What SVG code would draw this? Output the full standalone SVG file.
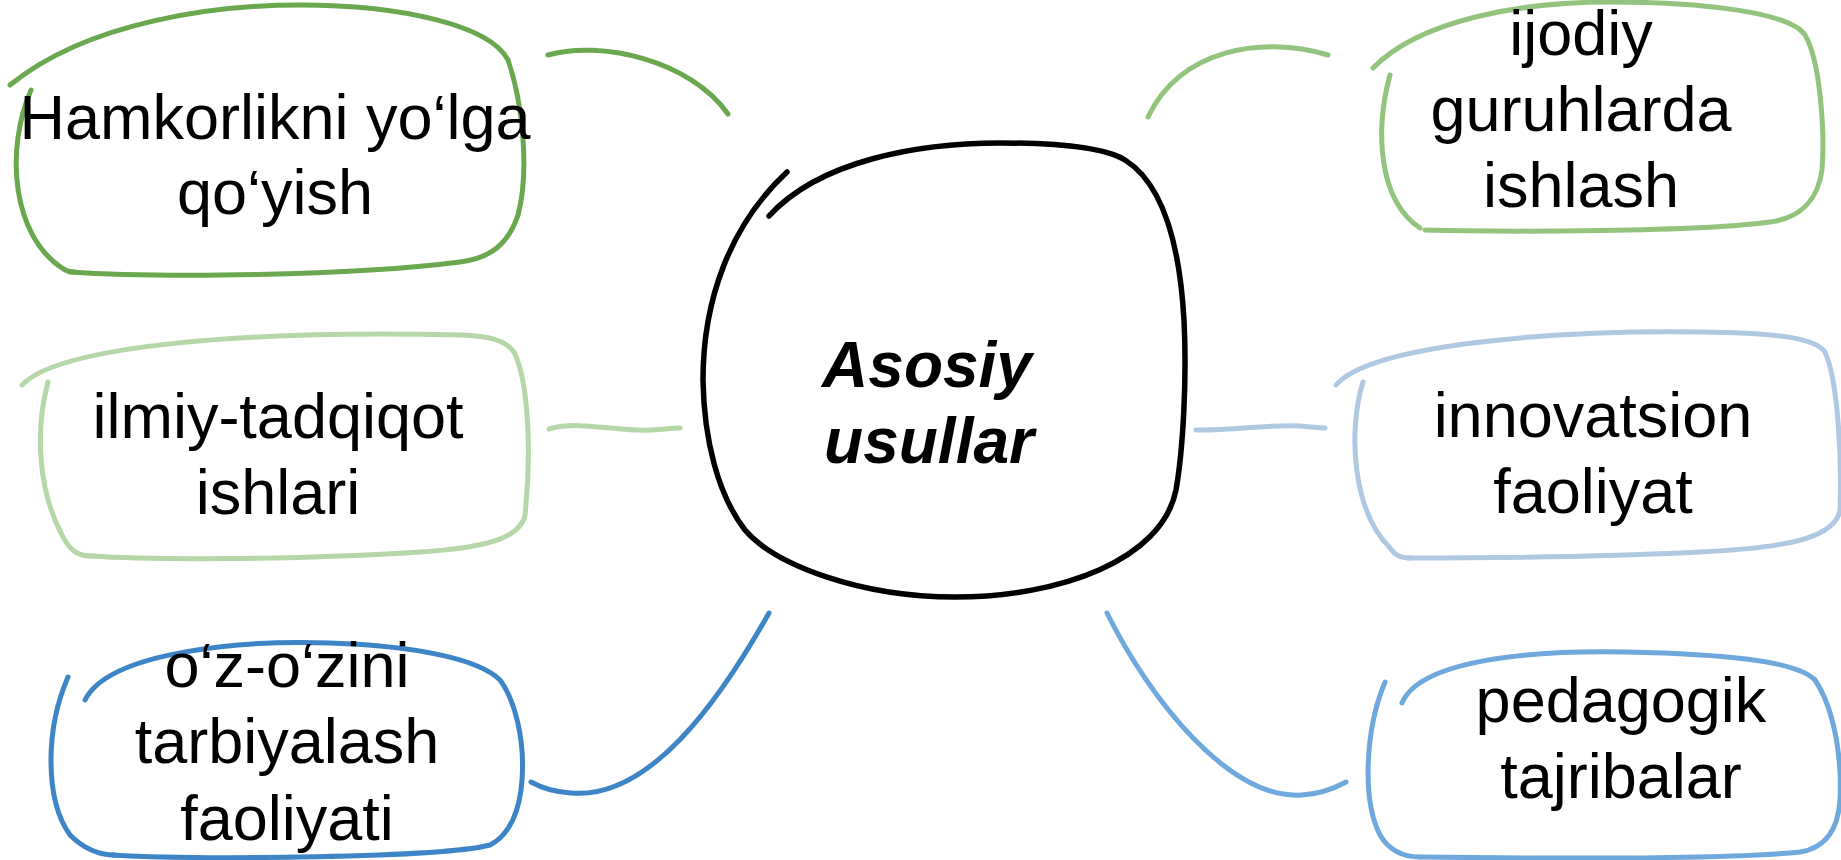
<svg xmlns="http://www.w3.org/2000/svg" width="1841" height="860" viewBox="0 0 1841 860">
<style>
.s{fill:none;stroke-linecap:round;stroke-linejoin:round;stroke-width:5}
.c1{stroke:#6aa84f}.c2{stroke:#93c47d}.c3{stroke:#b6d7a8}.c4{stroke:#b0c9e2}.c5{stroke:#3d85c6}.c6{stroke:#6fa8dc}
.t{font-family:"Liberation Sans",Arial,sans-serif;font-size:63px;fill:#000;text-anchor:middle}
.ct{font-family:"Liberation Sans",Arial,sans-serif;font-size:64px;font-weight:bold;font-style:italic;fill:#000;text-anchor:middle}
</style>
<rect width="1841" height="860" fill="#fff"/>
<g id="connectors">
<path class="s c1" d="M548,55 C600,40 690,60 728,114"/>
<path class="s c2" d="M1148,117 C1180,50 1260,35 1328,55"/>
<path class="s c3" d="M549,429 C580,420 620,432 650,430 C665,429 675,428 680,428"/>
<path class="s c4" d="M1196,430 C1230,431 1270,424 1300,426 C1315,427 1322,428 1325,428"/>
<path class="s c5" d="M769,613 C720,700 650,800 571,793 C555,792 540,787 531,782"/>
<path class="s c6" d="M1107,613 C1150,700 1230,800 1302,795 C1320,794 1335,788 1346,782"/>
</g>
<g id="center">
<path fill="none" stroke="#000" stroke-width="5.5" stroke-linecap="round" d="M769,216 C820,160 920,143 1000,143 C1060,143 1105,148 1125,160 C1165,185 1180,250 1184,320 C1187,380 1183,450 1176,490 C1162,560 1060,597 955,597 C860,597 775,565 745,530 C718,495 704,440 703,380 C703,300 730,225 787,172"/>
<text class="ct" x="927" y="387">Asosiy</text>
<text class="ct" x="929" y="463">usullar</text>
</g>
<g id="node-hamkorlik">
<path class="s c1" d="M10,85 C90,20 220,5 300,5 C400,5 490,25 508,60 C522,100 530,170 518,215 C508,245 490,258 460,262 C350,276 160,278 70,272"/>
<path class="s c1" d="M31,90 C5,150 12,235 62,268 C66,271 70,272 75,272"/>
<text class="t" x="275" y="139">Hamkorlikni yo‘lga</text>
<text class="t" x="275" y="214">qo‘yish</text>
</g>
<g id="node-ijodiy">
<path class="s c2" d="M1373,68 C1420,20 1520,2 1610,2 C1700,2 1790,12 1805,35 C1820,60 1825,130 1822,170 C1818,200 1800,218 1770,222 C1700,232 1500,232 1425,230"/>
<path class="s c2" d="M1390,75 C1375,130 1378,200 1420,228"/>
<text class="t" x="1581" y="55">ijodiy</text>
<text class="t" x="1581" y="131">guruhlarda</text>
<text class="t" x="1581" y="207">ishlash</text>
</g>
<g id="node-ilmiy">
<path class="s c3" d="M22,385 C60,345 250,330 460,335 C490,336 505,340 514,352 C528,380 532,450 525,515 C520,540 480,548 420,552 C300,560 150,560 90,556"/>
<path class="s c3" d="M48,382 C35,430 38,490 62,535 C70,552 80,557 95,556"/>
<text class="t" x="278" y="438">ilmiy-tadqiqot</text>
<text class="t" x="278" y="514">ishlari</text>
</g>
<g id="node-innovatsion">
<path class="s c4" d="M1336,385 C1370,345 1550,330 1700,332 C1780,333 1815,338 1825,352 C1838,380 1842,460 1840,510 C1835,540 1780,548 1700,552 C1600,557 1480,558 1408,558"/>
<path class="s c4" d="M1363,382 C1348,430 1352,510 1390,548 C1395,555 1400,558 1410,558"/>
<text class="t" x="1593" y="437">innovatsion</text>
<text class="t" x="1593" y="513">faoliyat</text>
</g>
<g id="node-ozozini">
<path class="s c5" d="M85,700 C110,650 250,640 330,643 C420,646 480,660 500,680 C515,700 525,740 522,780 C520,810 510,835 490,845 C440,858 200,860 112,855"/>
<path class="s c5" d="M68,677 C45,730 45,800 70,835 C85,850 100,855 115,855"/>
<text class="t" x="287" y="687">o‘z-o‘zini</text>
<text class="t" x="287" y="763">tarbiyalash</text>
<text class="t" x="287" y="840">faoliyati</text>
</g>
<g id="node-pedagogik">
<path class="s c6" d="M1402,703 C1420,660 1530,650 1626,652 C1720,654 1795,660 1815,680 C1835,710 1842,760 1840,800 C1838,830 1825,848 1800,852 C1720,860 1500,858 1420,857"/>
<path class="s c6" d="M1385,682 C1365,730 1362,800 1380,835 C1390,852 1405,857 1420,857"/>
<text class="t" x="1621" y="722">pedagogik</text>
<text class="t" x="1621" y="798">tajribalar</text>
</g>
</svg>
